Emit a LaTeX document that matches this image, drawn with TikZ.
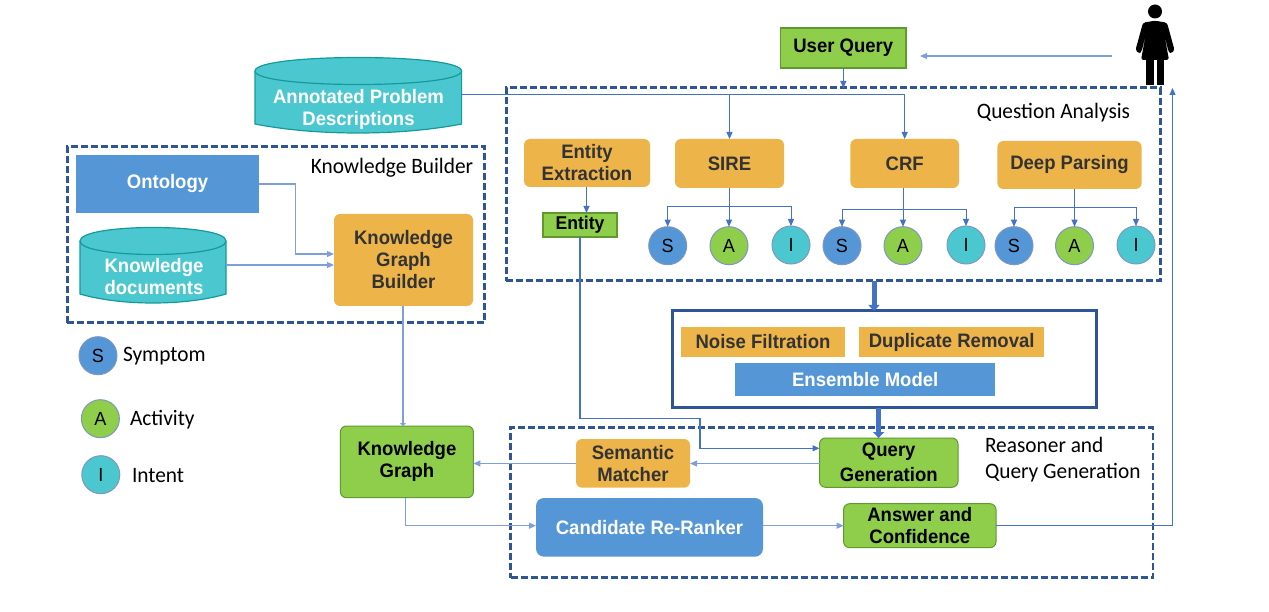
\documentclass[tikz,border=0pt]{standalone}
\usepackage{fontspec}
\setmainfont{Liberation Sans}[FakeStretch=0.95]
\newfontfamily\labfont{Carlito}[FakeStretch=0.97]
\usetikzlibrary{arrows.meta,calc}
\definecolor{cOrange}{HTML}{EDB44A}
\definecolor{cGreen}{HTML}{8FCE4B}
\definecolor{cGreenD}{HTML}{5E9A2C}
\definecolor{cBlue}{HTML}{5597D6}
\definecolor{cTeal}{HTML}{4BC8CF}
\definecolor{cTealD}{HTML}{139A9E}
\definecolor{cDash}{HTML}{2F5597}
\definecolor{cLine}{HTML}{4472C4}
\definecolor{cLineL}{HTML}{7F9FDC}
\definecolor{cText}{HTML}{333333}
\tikzset{
  x=1pt,y=-1pt,
  every node/.style={inner sep=0pt,outer sep=0pt,align=center},
  bt/.style={font=\bfseries\fontsize{19.5}{22}\selectfont},
  orangebox/.style={bt,fill=cOrange,text=cText,rounded corners=6pt},
  orangesq/.style={bt,fill=cOrange,text=cText},
  greenbox/.style={bt,fill=cGreen,draw=cGreenD,line width=1pt,text=black,rounded corners=6pt},
  greensq/.style={bt,fill=cGreen,draw=cGreenD,line width=1.2pt,text=black},
  bluebox/.style={bt,fill=cBlue,text=white},
  dashbox/.style={draw=cDash,line width=3pt,dash pattern=on 7pt off 3pt},
  cyltext/.style={bt,text=white},
  arr/.style={draw=cLine,line width=1pt,-{Triangle[length=7pt,width=6pt]}},
  arrl/.style={draw=cLineL,line width=1.2pt,-{Triangle[length=7pt,width=6pt]}},
  thick arr/.style={draw=cLine,line width=5pt,-{Triangle[length=6pt,width=11pt]}},
  dot/.style={circle,minimum size=38pt,draw=cLineL!70!gray,line width=1pt,text=black,font=\fontsize{19}{20}\selectfont},
  sdot/.style={dot,fill=cBlue},
  adot/.style={dot,fill=cGreen},
  idot/.style={dot,fill=cTeal},
  lab/.style={font=\labfont\fontsize{22}{26}\selectfont,text=black},
  cyl/.style={fill=cTeal,draw=cTealD,line width=1.2pt},
}
\begin{document}
\begin{tikzpicture}
\useasboundingbox (0,0) rectangle (1269,612);
% dashed frames
\node[dashbox,minimum width=417.5pt,minimum height=175.7pt,anchor=north west] (kb) at (67,147) {};
\node[dashbox,minimum width=654pt,minimum height=193pt,anchor=north west] (qa) at (506,88) {};
\node[dashbox,line width=2.6pt,minimum width=642.4pt,minimum height=150pt,anchor=north west] (rq) at (510.6,427.7) {};
% cylinders
\draw[cyl] (255,71) .. controls (255,53) and (461.6,53) .. (461.6,71) -- (461.6,124)
  .. controls (400,136) and (316,136) .. (255,124) -- cycle;
\draw[cyl] (255,71) .. controls (255,89) and (461.6,89) .. (461.6,71);
\draw[cyl] (80,241) .. controls (80,223) and (226,223) .. (226,241) -- (226,294)
  .. controls (185,306) and (121,306) .. (80,294) -- cycle;
\draw[cyl] (80,241) .. controls (80,259) and (226,259) .. (226,241);
\node[cyltext,minimum width=206.6pt,minimum height=76pt,anchor=north west] (apd) at (255,57) {};
\node[cyltext] (apdt) at (358.5,109) {Annotated Problem\\Descriptions};
\node[cyltext,minimum width=146pt,minimum height=76pt,anchor=north west] (kd) at (80,227) {};
\node[cyltext] (kdt) at (154,277) {Knowledge\\documents};
% boxes
\node[bluebox,minimum width=183pt,minimum height=58pt,anchor=north west] (onto) at (76,155) {Ontology};
\node[orangebox,minimum width=139pt,minimum height=92pt,anchor=north west] (kgb) at (334,214) {Knowledge\\Graph\\Builder};
\node[orangebox,minimum width=126pt,minimum height=48pt,anchor=north west] (ee) at (524,139) {Entity\\Extraction};
\node[greensq,minimum width=74pt,minimum height=24pt,anchor=north west,font=\bfseries\fontsize{18.5}{20}\selectfont] (ent) at (543,213) {Entity};
\node[orangebox,minimum width=109pt,minimum height=49pt,anchor=north west] (sire) at (675,139) {SIRE};
\node[orangebox,minimum width=108.6pt,minimum height=49pt,anchor=north west] (crf) at (850.4,139) {CRF};
\node[orangebox,minimum width=144.2pt,minimum height=48pt,anchor=north west] (dp) at (997.4,141) {Deep Parsing};
\node[greensq,minimum width=125.4pt,minimum height=40pt,anchor=north west] (uq) at (780.6,28) {User Query};
% circles
\node[sdot] (s1) at (667.7,245.7) {S};
\node[adot] (a1) at (729,245.7) {A};
\node[idot] (i1) at (791,245) {I};
\node[sdot] (s2) at (842,245.7) {S};
\node[adot] (a2) at (903,245.7) {A};
\node[idot] (i2) at (966,245) {I};
\node[sdot] (s3) at (1014,245.7) {S};
\node[adot] (a3) at (1074.5,245.7) {A};
\node[idot] (i3) at (1136,245) {I};
% legend
\node[sdot] (ls) at (98,355.7) {S};
\node[adot] (la) at (100.4,418.7) {A};
\node[idot] (li) at (100.8,474.7) {I};
\node[lab,anchor=west] (lst) at (123,356) {Symptom};
\node[lab,anchor=west] (lat) at (130,420) {Activity};
\node[lab,anchor=west] (lit) at (132,476) {Intent};
% frame labels
\node[lab] (kbl) at (392,168) {Knowledge Builder};
\node[lab] (qal) at (1053.5,113) {Question Analysis};
\node[lab,align=left,anchor=north west] (rql) at (985,437) {Reasoner and\\Query Generation};
% ensemble box
\node[draw=cDash,line width=3pt,minimum width=424pt,minimum height=96.7pt,anchor=north west] (ebox) at (672,311) {};
\node[orangesq,minimum width=164pt,minimum height=30pt,anchor=north west] (nf) at (681,327) {Noise Filtration};
\node[orangesq,minimum width=185.4pt,minimum height=30pt,anchor=north west] (dr) at (859,327) {\raisebox{2pt}{Duplicate Removal}};
\node[bluebox,minimum width=260.4pt,minimum height=33pt,anchor=north west] (em) at (735,363) {Ensemble Model};
% reasoner
\node[greenbox,minimum width=138.5pt,minimum height=49.3pt,anchor=north west,font=\bfseries\fontsize{19.5}{25}\selectfont] (qg) at (819.5,438) {Query\\Generation};
\node[orangebox,minimum width=114pt,minimum height=48.7pt,anchor=north west] (sm) at (576,439) {Semantic\\Matcher};
\node[greenbox,minimum width=133pt,minimum height=71.7pt,anchor=north west] (kg) at (340.4,426) {Knowledge\\Graph};
\node[bluebox,rounded corners=8pt,minimum width=227pt,minimum height=58.7pt,anchor=north west] (cr) at (536,498) {Candidate Re-Ranker};
\node[greenbox,minimum width=152.4pt,minimum height=44pt,anchor=north west] (ac) at (843.6,503.7) {Answer and\\Confidence};
% person
\fill[black] (1155,11.5) circle (7pt);
\fill[black,rounded corners=2.5pt] (1155,20.7) -- (1167,22.7) -- (1174.5,50) -- (1171.5,53.5) -- (1168.5,52)
  -- (1164,33) -- (1169,60) -- (1141,60) -- (1146,33) -- (1141.5,52) -- (1138.5,53.5) -- (1135.5,50) -- (1143,22.7) -- cycle;
\fill[black] (1146,59) rectangle (1153.5,85);
\fill[black] (1156.5,59) rectangle (1164,85);
\coordinate (pers) at (1112,56);
\coordinate (uqr) at (920,56);
\coordinate (ret) at (1172.5,525.7);
\coordinate (rett) at (1172.5,88);
% connectors
\draw[arr] (apd.east) -| (crf.north);
\draw[arr] (sire.north |- apd.east) -- (sire.north);
\draw[arr] (uq.south) -- (uq.south |- qa.north);
\draw[arrl] (pers) -- (uqr);
\draw[arr] (ee.south -| 586.5,0) -- (ent.north -| 586.5,0);
\coordinate (t1) at (729,206.7);
\coordinate (t2) at (903,209.3);
\coordinate (t3) at (1074.5,208);
\draw[arr] (a1.north |- sire.south) -- (a1.north);
\draw[arr] (t1) -| (s1.north);
\draw[arr] (t1) -| (i1.north);
\draw[arr] (a2.north |- crf.south) -- (a2.north);
\draw[arr] (t2) -| (s2.north);
\draw[arr] (t2) -| (i2.north);
\draw[arr] (a3.north |- dp.south) -- (a3.north);
\draw[arr] (t3) -| (s3.north);
\draw[arr] (t3) -| (i3.north);
\coordinate (ot) at (295.5,254);
\draw[arrl] (onto.east) -| (ot) -- (ot -| kgb.west);
\draw[arrl] (kd.east) -- (kd.east -| kgb.west);
\coordinate (th1) at (874,295);
\coordinate (th2) at (878.6,420);
\draw[thick arr] (qa.south -| th1) -- (ebox.north -| th1);
\draw[thick arr] (ebox.south -| th2) -- (qg.north -| th2);
\coordinate (e1) at (700,418.3);
\coordinate (e2) at (700,448.3);
\draw[draw=cLine,line width=1.3pt,-{Triangle[length=7pt,width=6pt]}] (ent.south) |- (e1) -- (e2) -- (e2 -| qg.west);
\coordinate (m1) at (700,463.5);
\draw[arrl] (qg.west |- m1) -- (sm.east |- m1);
\draw[arrl] (sm.west |- m1) -- (kg.east |- m1);
\coordinate (k1) at (403,360);
\draw[draw=cLineL,line width=1.2pt,-{Triangle[length=3pt,width=6pt]}] (kgb.south -| k1) -- (kg.north -| k1);
\coordinate (k2) at (405.7,525.7);
\draw[arrl] (kg.south -| k2) -- (k2) -- (cr.west |- k2);
\draw[arrl] (cr.east |- k2) -- (ac.west |- k2);
\draw[arr] (ac.east |- ret) -- (ret) -- (rett);
\end{tikzpicture}
\end{document}
